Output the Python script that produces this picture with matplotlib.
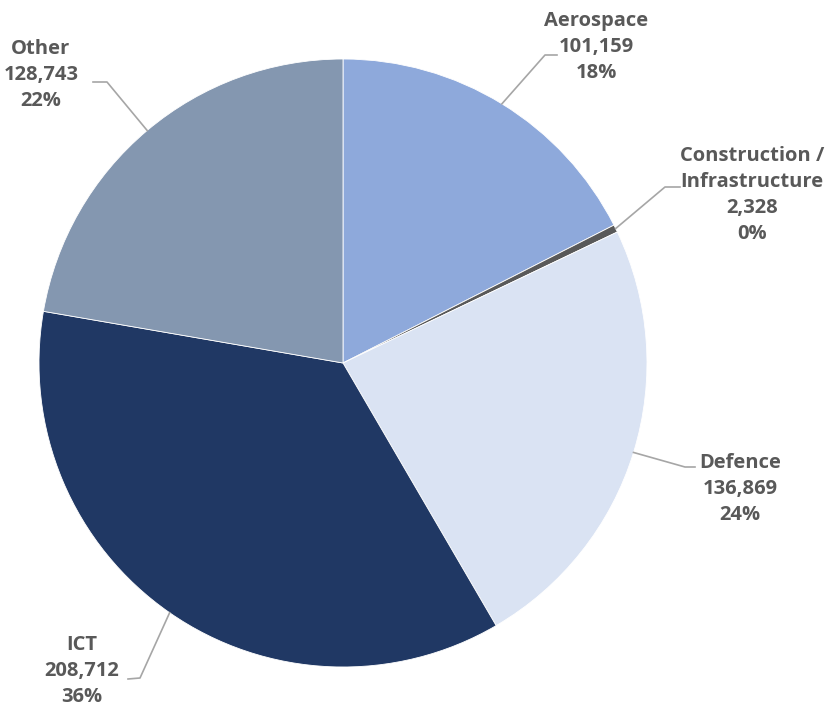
import matplotlib.pyplot as plt
import numpy as np

sectors = ['Aerospace', 'Construction /\nInfrastructure', 'Defence', 'ICT', 'Other']
values = [101159, 2328, 136869, 208712, 128743]
colors = ['#8EA9DB', '#595959', '#DAE3F3', '#203864', '#8497B0']

# label layout in pixel coords (x, y from top): text centre, elbow point
label_pos = [(596, 47), (752, 195), (740, 489), (82, 671), (41, 75)]
elbow_pos = [(545, 55), (665, 187), (685, 467), (140, 678), (107, 82)]
elbow_end = [(557, 55), (680, 187), (695, 467), (128, 679), (93, 82)]

W, H = 829, 712
fig = plt.figure(figsize=(W / 100, H / 100), dpi=100)
ax = fig.add_axes([0, 0, 1, 1])

cx, cy, r = 343, H - 363, 304
wedges, _ = ax.pie(values, colors=colors, startangle=90, counterclock=False,
                   center=(cx, cy), radius=r, frame=True,
                   wedgeprops=dict(edgecolor='white', linewidth=0.6))
ax.set_xlim(0, W)
ax.set_ylim(0, H)
ax.set_aspect('equal')
ax.axis('off')

total = sum(values)
for i, w in enumerate(wedges):
    ang = np.deg2rad((w.theta1 + w.theta2) / 2)
    px, py = cx + r * np.cos(ang), cy + r * np.sin(ang)
    ex, ey = elbow_pos[i]
    fx, fy = elbow_end[i]
    ax.plot([px, ex, fx], [py, H - ey, H - fy], color='#A6A6A6', lw=1.2)
    pct = round(values[i] / total * 100)
    txt = f'{sectors[i]}\n{values[i]:,}\n{pct}%'
    tx, ty = label_pos[i]
    ax.text(tx, H - ty, txt, ha='center', va='center', fontsize=14.5,
            fontweight='bold', family='Open Sans', color='#595959', linespacing=1.42)

fig.savefig('out.png', dpi=100)
